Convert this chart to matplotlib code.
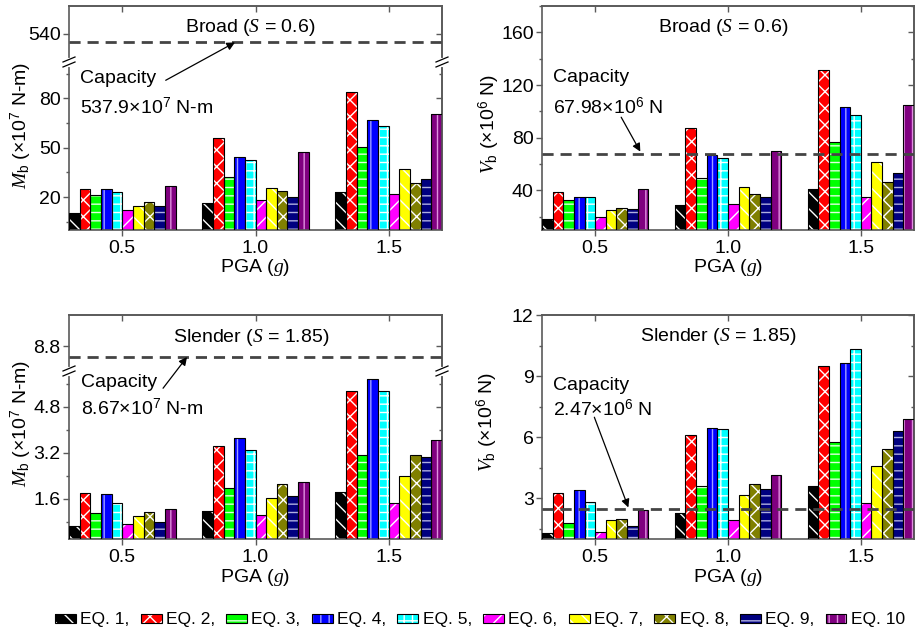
import numpy as np
import matplotlib
matplotlib.use('Agg')
import matplotlib.pyplot as plt
from matplotlib.patches import Patch
from matplotlib.lines import Line2D
from matplotlib.legend_handler import HandlerTuple
from matplotlib.ticker import FixedLocator

plt.rcParams['font.family'] = ['Liberation Sans', 'DejaVu Sans']
plt.rcParams['mathtext.fontset'] = 'custom'
plt.rcParams['mathtext.rm'] = 'Liberation Sans'
plt.rcParams['mathtext.it'] = 'Liberation Serif:italic'
plt.rcParams['hatch.linewidth'] = 1.0

# data (rows EQ. 1 .. EQ. 10, columns PGA 0.5, 1.0, 1.5)
pga = [0.5, 1.0, 1.5]
eq_labels = ['EQ. 1,', 'EQ. 2,', 'EQ. 3,', 'EQ. 4,', 'EQ. 5,',
             'EQ. 6,', 'EQ. 7,', 'EQ. 8,', 'EQ. 9,', 'EQ. 10']

mb_broad = [
    [10.5, 16.4, 23.2],
    [25.0, 55.6, 83.6],
    [21.4, 32.1, 50.1],
    [24.6, 44.2, 66.7],
    [23.2, 42.8, 63.4],
    [12.1, 18.2, 21.8],
    [14.5, 25.5, 36.8],
    [16.8, 23.6, 28.3],
    [14.5, 20.2, 30.7],
    [26.5, 47.1, 70.7],
]
vb_broad = [
    [18.2, 28.6, 40.8],
    [39.2, 87.1, 131.4],
    [32.9, 49.4, 77.0],
    [35.4, 66.8, 103.5],
    [34.7, 64.3, 97.0],
    [19.5, 29.4, 34.7],
    [24.8, 43.0, 61.8],
    [26.8, 37.2, 46.1],
    [25.6, 35.2, 53.2],
    [41.3, 70.1, 105.1],
]
mb_slender = [
    [0.66, 1.16, 1.82],
    [1.80, 3.45, 5.34],
    [1.09, 1.96, 3.14],
    [1.75, 3.70, 5.76],
    [1.46, 3.31, 5.34],
    [0.72, 1.02, 1.45],
    [1.00, 1.62, 2.39],
    [1.14, 2.11, 3.13],
    [0.79, 1.68, 3.05],
    [1.26, 2.19, 3.63],
]
vb_slender = [
    [1.28, 2.26, 3.60],
    [3.26, 6.09, 9.52],
    [1.81, 3.62, 5.75],
    [3.39, 6.43, 9.63],
    [2.84, 6.38, 10.35],
    [1.33, 1.92, 2.79],
    [1.94, 3.18, 4.57],
    [1.97, 3.69, 5.42],
    [1.66, 3.47, 6.28],
    [2.40, 4.13, 6.89],
]

cap_mb_broad = 537.9
cap_vb_broad = 67.98
cap_mb_slender = 8.67
cap_vb_slender = 2.47

colors = ['#000000', '#ff0000', '#00ff00', '#0000ff', '#00ffff',
          '#ff00ff', '#ffff00', '#808000', '#000080', '#800080']
hatch_cols = ['white', 'white', '#e0ffe0', '#a0a0ff', 'white',
              'white', 'white', 'white', '#b0b0e0', '#e090e0']
hatches = ['\\\\', 'xx', '--', '||', '++', '//', '\\\\', 'xx', '--', '||']

W, H, DPI = 917, 632, 100
SPINE = '#5a5a5a'
FS = 14
bar_w = 0.04

fig = plt.figure(figsize=(W / DPI, H / DPI), dpi=DPI)


def box(L, T, R, B):
    return [L / W, 1 - B / H, (R - L) / W, (B - T) / H]


def draw_bars(ax, data):
    for i in range(10):
        x = np.array(pga) + (i - 4.5) * bar_w
        ax.bar(x, data[i], bar_w, color=colors[i], edgecolor=hatch_cols[i],
               hatch=hatches[i], linewidth=0, zorder=2)
        ax.bar(x, data[i], bar_w, fill=False, edgecolor='black',
               linewidth=0.8, zorder=3)


def style(ax, majors, minors, bottom=True, top=True):
    ax.set_facecolor('none')
    ax.set_xlim(0.3, 1.7)
    for s in ax.spines.values():
        s.set_color(SPINE)
        s.set_linewidth(1.2)
    ax.spines['bottom'].set_visible(bottom)
    ax.spines['top'].set_visible(top)
    ax.yaxis.set_major_locator(FixedLocator(majors))
    ax.yaxis.set_minor_locator(FixedLocator(minors))
    ax.tick_params(which='both', direction='out', color=SPINE, width=1,
                   labelsize=FS, pad=1.5)
    ax.tick_params(which='major', length=4.5)
    ax.tick_params(which='minor', length=2.5)
    ax.set_xticks(pga)
    ax.set_xticklabels(['0.5', '1.0', '1.5'])
    ax.tick_params(axis='x', bottom=bottom, labelbottom=bottom, pad=2.5)
    # mirrored ticks pointing inwards
    sy = ax.secondary_yaxis('right')
    sy.yaxis.set_major_locator(FixedLocator(majors))
    sy.yaxis.set_minor_locator(FixedLocator(minors))
    sy.tick_params(which='both', direction='in', color=SPINE, width=1,
                   labelright=False, labelleft=False)
    sy.tick_params(which='major', length=4.5)
    sy.tick_params(which='minor', length=2.5)
    sy.spines['right'].set_color(SPINE)
    sy.spines['right'].set_linewidth(1.2)
    if top:
        sx = ax.secondary_xaxis('top')
        sx.set_xticks(pga)
        sx.tick_params(direction='in', color=SPINE, width=1, length=4.5,
                       labeltop=False, labelbottom=False)
        sx.spines['top'].set_color(SPINE)
        sx.spines['top'].set_linewidth(1.2)


def capline(ax, y):
    ax.axhline(y, color='#444444', lw=2, dashes=(4, 2.5), zorder=5)


def break_mark(x, y):
    Y = H - y
    fig.add_artist(Line2D([x / DPI, x / DPI], [(Y - 2.5) / DPI, (Y + 2.5) / DPI],
                          color='white', lw=3, transform=fig.dpi_scale_trans))
    for dy in (-2.5, 2.5):
        fig.add_artist(Line2D([(x - 6) / DPI, (x + 6) / DPI],
                              [(Y + dy - 2.5) / DPI, (Y + dy + 2.5) / DPI],
                              color='black', lw=0.9, transform=fig.dpi_scale_trans))


arrow = dict(arrowstyle='-|>', color='black', lw=0.9, mutation_scale=12,
             shrinkA=0, shrinkB=0)

# ---- top left: broad, moment (broken axis)
tl_up = fig.add_axes(box(69, 6, 442, 62))
tl_lo = fig.add_axes(box(69, 62, 442, 230))
for a in (tl_up, tl_lo):
    draw_bars(a, mb_broad)
tl_up.set_ylim(533, 547)
tl_lo.set_ylim(0, 102)
style(tl_up, [540], [], bottom=False, top=True)
style(tl_lo, [20, 50, 80], [5, 35, 65, 95], bottom=True, top=False)
capline(tl_up, cap_mb_broad)
tl_up.text(0.485, 0.625, 'Broad ($\\mathit{S}$ = 0.6)', transform=tl_up.transAxes,
           ha='center', va='center', fontsize=FS)
tl_lo.text(0.03, 0.899, 'Capacity', transform=tl_lo.transAxes, ha='left', va='center', fontsize=FS)
tl_lo.text(0.03, 0.732, '537.9×10$^{7}$ N-m', transform=tl_lo.transAxes, ha='left', va='center', fontsize=FS)
tl_lo.annotate('', xy=(0.923, cap_mb_broad), xycoords=tl_up.transData,
               xytext=(0.663, 90.9), textcoords='data', arrowprops=arrow)
break_mark(69, 62)
break_mark(442, 62)
fig.text(21 / W, 1 - 125 / H, '$\\mathit{M}_{\\mathrm{b}}$ (×10$^{7}$ N-m)', rotation=90,
         ha='center', va='center', fontsize=FS)
fig.text(255.5 / W, 1 - 268 / H, 'PGA ($\\mathit{g}$)', ha='center', va='center', fontsize=FS)

# ---- top right: broad, shear
tr = fig.add_axes(box(542, 6, 914, 230))
draw_bars(tr, vb_broad)
tr.set_ylim(10, 180)
style(tr, [40, 80, 120, 160], [20, 60, 100, 140, 180])
capline(tr, cap_vb_broad)
tr.text(0.487, 0.906, 'Broad ($\\mathit{S}$ = 0.6)', transform=tr.transAxes,
        ha='center', va='center', fontsize=FS)
tr.text(0.03, 0.679, 'Capacity', transform=tr.transAxes, ha='left', va='center', fontsize=FS)
tr.text(0.03, 0.549, '67.98×10$^{6}$ N', transform=tr.transAxes, ha='left', va='center', fontsize=FS)
tr.annotate('', xy=(0.67, 69.5), xytext=(0.598, 95.6), arrowprops=arrow)
fig.text(489 / W, 1 - 124 / H, '$\\mathit{V}_{\\mathrm{b}}$ (×10$^{6}$ N)', rotation=90,
         ha='center', va='center', fontsize=FS)
fig.text(728 / W, 1 - 268 / H, 'PGA ($\\mathit{g}$)', ha='center', va='center', fontsize=FS)

# ---- bottom left: slender, moment (broken axis)
bl_up = fig.add_axes(box(69, 315, 442, 371))
bl_lo = fig.add_axes(box(69, 371, 442, 539))
for a in (bl_up, bl_lo):
    draw_bars(a, mb_slender)
bl_up.set_ylim(8.5, 9.18)
bl_lo.set_ylim(0.2, 6.05)
style(bl_up, [8.8], [], bottom=False, top=True)
style(bl_lo, [1.6, 3.2, 4.8], [0.8, 2.4, 4.0, 5.6], bottom=True, top=False)
capline(bl_up, cap_mb_slender)
bl_up.text(0.488, 0.605, 'Slender ($\\mathit{S}$ = 1.85)', transform=bl_up.transAxes,
           ha='center', va='center', fontsize=FS)
bl_lo.text(0.032, 0.929, 'Capacity', transform=bl_lo.transAxes, ha='left', va='center', fontsize=FS)
bl_lo.text(0.032, 0.778, '8.67×10$^{7}$ N-m', transform=bl_lo.transAxes, ha='left', va='center', fontsize=FS)
bl_lo.annotate('', xy=(0.743, cap_mb_slender), xycoords=bl_up.transData,
               xytext=(0.653, 5.45), textcoords='data', arrowprops=arrow)
break_mark(69, 371)
break_mark(442, 371)
fig.text(21 / W, 1 - 423 / H, '$\\mathit{M}_{\\mathrm{b}}$ (×10$^{7}$ N-m)', rotation=90,
         ha='center', va='center', fontsize=FS)
fig.text(255.5 / W, 1 - 577 / H, 'PGA ($\\mathit{g}$)', ha='center', va='center', fontsize=FS)

# ---- bottom right: slender, shear
br = fig.add_axes(box(542, 315, 914, 539))
draw_bars(br, vb_slender)
br.set_ylim(1, 12)
style(br, [3, 6, 9, 12], [1.5, 4.5, 7.5, 10.5])
capline(br, cap_vb_slender)
br.text(0.474, 0.902, 'Slender ($\\mathit{S}$ = 1.85)', transform=br.transAxes,
        ha='center', va='center', fontsize=FS)
br.text(0.03, 0.6875, 'Capacity', transform=br.transAxes, ha='left', va='center', fontsize=FS)
br.text(0.03, 0.576, '2.47×10$^{6}$ N', transform=br.transAxes, ha='left', va='center', fontsize=FS)
br.annotate('', xy=(0.625, 2.55), xytext=(0.497, 6.98), arrowprops=arrow)
fig.text(487 / W, 1 - 422 / H, '$\\mathit{V}_{\\mathrm{b}}$ (×10$^{6}$ N)', rotation=90,
         ha='center', va='center', fontsize=FS)
fig.text(728 / W, 1 - 577 / H, 'PGA ($\\mathit{g}$)', ha='center', va='center', fontsize=FS)

# ---- legend
handles = []
for i in range(10):
    handles.append((Patch(facecolor=colors[i], edgecolor=hatch_cols[i], hatch=hatches[i], linewidth=0),
                    Patch(fill=False, edgecolor='black', linewidth=0.8)))
fig.legend(handles, eq_labels, ncol=10, loc='center', bbox_to_anchor=(0.5234, 0.019),
           frameon=False, prop={'size': 12.5},
           handlelength=1.2, handleheight=0.4, handletextpad=0.25, columnspacing=0.65,
           borderpad=0, borderaxespad=0, handler_map={tuple: HandlerTuple(ndivide=1, pad=0)})

fig.savefig('out.png', dpi=DPI)
